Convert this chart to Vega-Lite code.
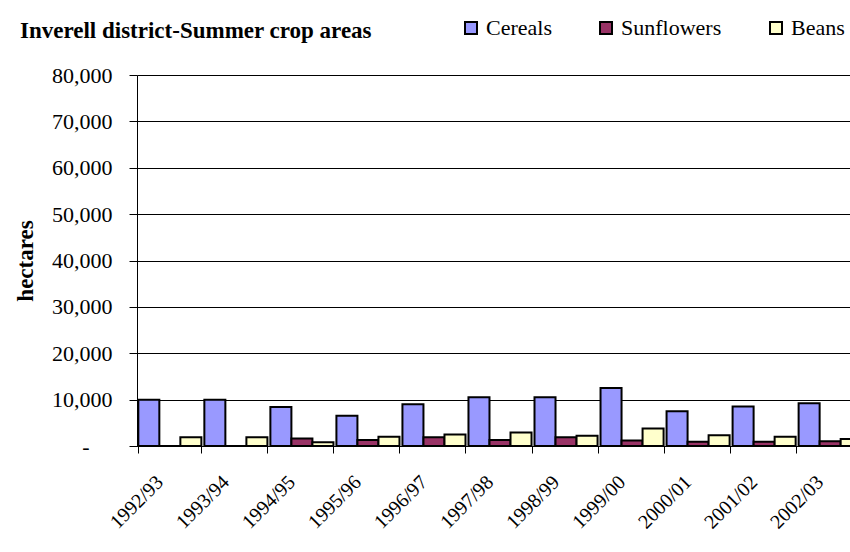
{
  "$schema": "https://vega.github.io/schema/vega-lite/v6.json",
  "width": 726,
  "height": 371,
  "autosize": {"type": "none"},
  "padding": {"left": 137, "top": 75, "right": 0, "bottom": 106},
  "background": "white",
  "title": {
    "text": "Inverell district-Summer crop areas",
    "anchor": "start",
    "frame": "group",
    "dx": -117,
    "offset": -44,
    "baseline": "alphabetic",
    "font": "Liberation Serif",
    "fontSize": 23,
    "fontWeight": "bold",
    "color": "black"
  },
  "data": {
    "values": [
      {"year": "1992/93", "crop": "Cereals", "hectares": 10000},
      {"year": "1992/93", "crop": "Sunflowers", "hectares": 0},
      {"year": "1992/93", "crop": "Beans", "hectares": 1900},
      {"year": "1993/94", "crop": "Cereals", "hectares": 10000},
      {"year": "1993/94", "crop": "Sunflowers", "hectares": 0},
      {"year": "1993/94", "crop": "Beans", "hectares": 1900},
      {"year": "1994/95", "crop": "Cereals", "hectares": 8400},
      {"year": "1994/95", "crop": "Sunflowers", "hectares": 1600},
      {"year": "1994/95", "crop": "Beans", "hectares": 800},
      {"year": "1995/96", "crop": "Cereals", "hectares": 6500},
      {"year": "1995/96", "crop": "Sunflowers", "hectares": 1300},
      {"year": "1995/96", "crop": "Beans", "hectares": 2000},
      {"year": "1996/97", "crop": "Cereals", "hectares": 9000},
      {"year": "1996/97", "crop": "Sunflowers", "hectares": 1900},
      {"year": "1996/97", "crop": "Beans", "hectares": 2500},
      {"year": "1997/98", "crop": "Cereals", "hectares": 10500},
      {"year": "1997/98", "crop": "Sunflowers", "hectares": 1300},
      {"year": "1997/98", "crop": "Beans", "hectares": 2900},
      {"year": "1998/99", "crop": "Cereals", "hectares": 10500},
      {"year": "1998/99", "crop": "Sunflowers", "hectares": 1900},
      {"year": "1998/99", "crop": "Beans", "hectares": 2200},
      {"year": "1999/00", "crop": "Cereals", "hectares": 12500},
      {"year": "1999/00", "crop": "Sunflowers", "hectares": 1200},
      {"year": "1999/00", "crop": "Beans", "hectares": 3800},
      {"year": "2000/01", "crop": "Cereals", "hectares": 7500},
      {"year": "2000/01", "crop": "Sunflowers", "hectares": 900},
      {"year": "2000/01", "crop": "Beans", "hectares": 2300},
      {"year": "2001/02", "crop": "Cereals", "hectares": 8500},
      {"year": "2001/02", "crop": "Sunflowers", "hectares": 900},
      {"year": "2001/02", "crop": "Beans", "hectares": 2000},
      {"year": "2002/03", "crop": "Cereals", "hectares": 9200},
      {"year": "2002/03", "crop": "Sunflowers", "hectares": 1000},
      {"year": "2002/03", "crop": "Beans", "hectares": 1500}
    ]
  },
  "mark": {"type": "bar", "stroke": "black", "strokeWidth": 2},
  "encoding": {
    "x": {
      "field": "year",
      "type": "nominal",
      "sort": null,
      "scale": {"paddingInner": 0.045, "paddingOuter": 0.02},
      "axis": {
        "title": null,
        "labelAngle": -45,
        "labelAlign": "right",
        "labelBaseline": "alphabetic",
        "labelPadding": 30,
        "labelOffset": -6,
        "labelFont": "Liberation Serif",
        "labelFontSize": 20,
        "labelColor": "black",
        "tickBand": "extent",
        "tickSize": 7,
        "tickColor": "black",
        "domainColor": "black",
        "domainWidth": 1,
        "grid": false
      }
    },
    "xOffset": {"field": "crop", "sort": ["Cereals", "Sunflowers", "Beans"], "scale": {"paddingInner": 0, "paddingOuter": 0}},
    "y": {
      "field": "hectares",
      "type": "quantitative",
      "scale": {"domain": [0, 80000], "nice": false},
      "axis": {
        "title": "hectares",
        "titleFont": "Liberation Serif",
        "titleFontSize": 23,
        "titleFontWeight": "bold",
        "titleColor": "black",
        "titlePadding": 14,
        "values": [0, 10000, 20000, 30000, 40000, 50000, 60000, 70000, 80000],
        "labelExpr": "datum.value === 0 ? '-' : format(datum.value, ',')",
        "labelFont": "Liberation Serif",
        "labelFontSize": 22,
        "labelColor": "black",
        "labelPadding": {"condition": {"test": "datum.value === 0", "value": 40}, "value": 17},
        "tickSize": 8,
        "tickColor": "black",
        "domainColor": "black",
        "domainWidth": 1,
        "grid": true,
        "gridColor": "black",
        "gridWidth": 1,
        "gridOpacity": 1
      }
    },
    "color": {
      "field": "crop",
      "type": "nominal",
      "scale": {"domain": ["Cereals", "Sunflowers", "Beans"], "range": ["#9999FF", "#993366", "#FFFFCC"]},
      "legend": {
        "orient": "none",
        "direction": "horizontal",
        "legendX": 323,
        "legendY": -58,
        "padding": 0,
        "title": null,
        "symbolType": "square",
        "symbolSize": 144,
        "symbolStrokeColor": "black",
        "symbolStrokeWidth": 2,
        "symbolOpacity": 1,
        "labelFont": "Liberation Serif",
        "labelFontSize": 22,
        "labelColor": "black",
        "labelOffset": 4,
        "columnPadding": 43
      }
    }
  },
  "config": {
    "font": "Liberation Serif",
    "view": {"stroke": null},
    "axis": {"labelFont": "Liberation Serif", "titleFont": "Liberation Serif"},
    "legend": {"labelFont": "Liberation Serif"}
  }
}
